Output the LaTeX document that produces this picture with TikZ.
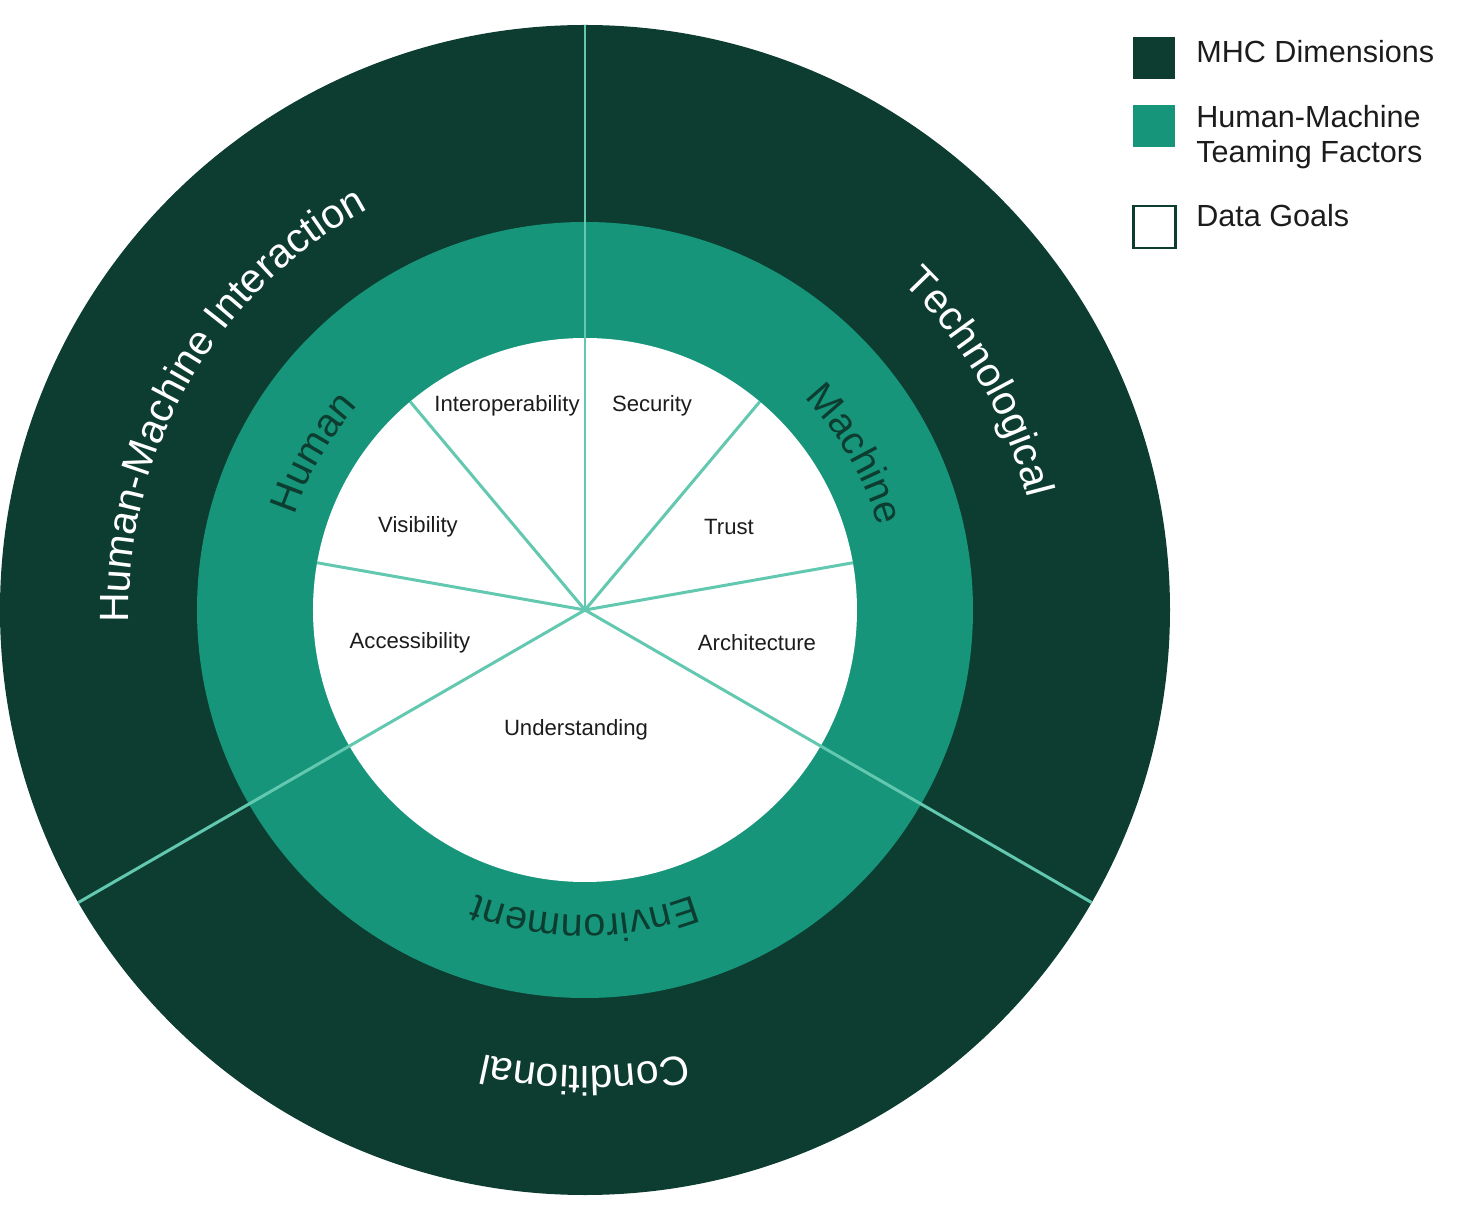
\documentclass[tikz,border=0pt]{standalone}
\usepackage{fontspec}
\setmainfont{Liberation Sans}
\usetikzlibrary{decorations.text}

\definecolor{mhcdark}{HTML}{0C3D30}
\definecolor{hmtteal}{HTML}{16957A}
\definecolor{spokecol}{HTML}{62C8B0}
\definecolor{goaltext}{HTML}{1C1C1C}

\begin{document}
\begin{tikzpicture}[x=0.02cm, y=0.02cm,
    goal/.style={text=goaltext, font=\fontsize{12.6}{14}\selectfont, inner sep=0pt},
    divider/.style={draw=spokecol, line width=1.7pt},
    legbox/.style={minimum size=0.84cm, inner sep=0pt},
    legtext/.style={anchor=base west, inner sep=0pt, text=goaltext, font=\fontsize{17.4}{20}\selectfont}]
    \useasboundingbox (-585,-610) rectangle (899,610);

%rings
    \fill[mhcdark] (0,0) circle[radius=585];
    \fill[hmtteal] (0,0) circle[radius=388];
    \fill[white] (0,0) circle[radius=272];

%dividers
    \coordinate (c) at (0,0);
    \foreach \a in {90,210,330}{
        \coordinate (d\a) at (\a:585);
        \draw[divider] (c) -- (d\a);
    }
    \foreach \a in {10,50,130,170}{
        \coordinate (s\a) at (\a:272);
        \draw[divider] (c) -- (s\a);
    }

%outer ring
    \path[decorate, decoration={text along path, text align=center, text color=white,
        text={|\fontsize{23.3}{27}\selectfont|Human-Machine Interaction}}]
        (210:456) arc[start angle=210, end angle=90, radius=456];
    \path[decorate, decoration={text along path, text align=center, text color=white,
        text={|\fontsize{23.3}{27}\selectfont|Technological}}]
        (90:456) arc[start angle=90, end angle=-30, radius=456];
    \path[decorate, decoration={text along path, text align=center, text color=white,
        text={|\fontsize{23.3}{27}\selectfont|Conditional}}]
        (-30:456) arc[start angle=-30, end angle=-150, radius=456];

%middle ring
    \path[decorate, decoration={text along path, text align=center, text color=mhcdark,
        text={|\fontsize{22.5}{26}\selectfont|Human}}]
        (210:305) arc[start angle=210, end angle=90, radius=305];
    \path[decorate, decoration={text along path, text align=center, text color=mhcdark,
        text={|\fontsize{22.5}{26}\selectfont|Machine}}]
        (90:305) arc[start angle=90, end angle=-30, radius=305];
    \path[decorate, decoration={text along path, text align=center, text color=mhcdark,
        text={|\fontsize{22.5}{26}\selectfont|Environment}}]
        (-30:305) arc[start angle=-30, end angle=-150, radius=305];

%data goals
    \node[goal] (interop) at (-78,204) {Interoperability};
    \node[goal] (security) at (67,204) {Security};
    \node[goal] (visib) at (-167,83) {Visibility};
    \node[goal] (trust) at (144,83) {Trust};
    \node[goal] (access) at (-175,-33) {Accessibility};
    \node[goal] (archi) at (172,-33) {Architecture};
    \node[goal] (underst) at (-9,-120) {Understanding};

%legend
    \node[legbox, fill=mhcdark] (legdim) at (569,551.5) {};
    \node[legbox, fill=hmtteal] (legteam) at (569,484) {};
    \node[legbox, fill=white, draw=mhcdark, line width=1.2pt] (leggoal) at (569.5,383) {};
    \node[legtext] (legdimtxt) at (611,547) {MHC Dimensions};
    \node[legtext, align=left] (legteamtxt) at (611,447) {Human-Machine\\Teaming Factors};
    \node[legtext] (leggoaltxt) at (611,383) {Data Goals};

\end{tikzpicture}
\end{document}
